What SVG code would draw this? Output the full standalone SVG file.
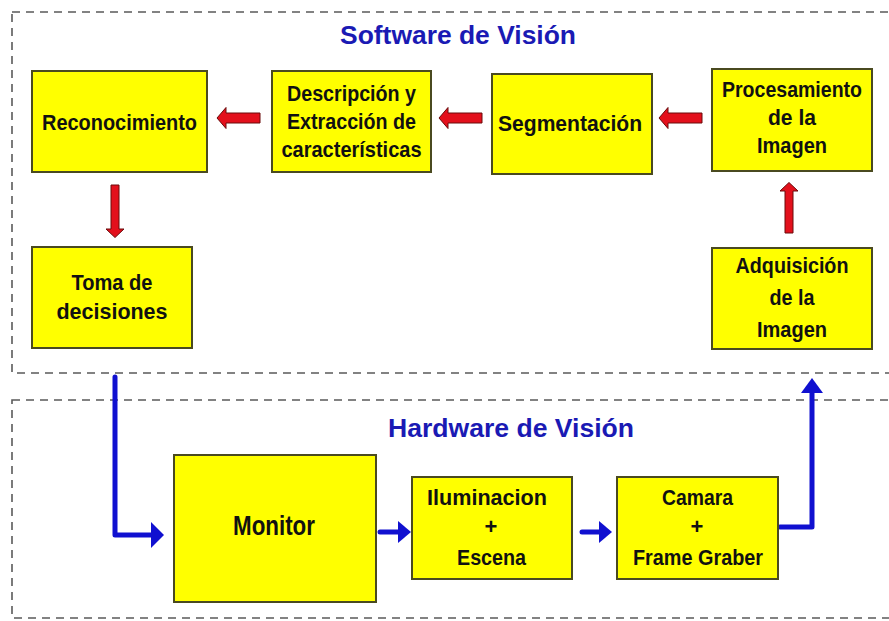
<svg xmlns="http://www.w3.org/2000/svg" width="889" height="621" viewBox="0 0 889 621">
<style>
.bg{fill:#ffffff}
.frame{fill:none;stroke:#5a5a5a;stroke-width:1.6;stroke-dasharray:8 6}
.box{fill:#ffff00;stroke:#4a4a20;stroke-width:2}
.t{font-family:"Liberation Sans",Arial,sans-serif;font-weight:bold;font-size:22px;fill:#111;text-anchor:middle}
.title{font-family:"Liberation Sans",Arial,sans-serif;font-weight:bold;font-size:25px;fill:#1a1ab4;text-anchor:middle}
.red{fill:#e3101c;stroke:#6a0a0a;stroke-width:1}
.blue{fill:none;stroke:#1010d0;stroke-width:5;stroke-linejoin:round;stroke-linecap:round}
.bhead{fill:#1010d0}
</style>
<rect class="bg" x="0" y="0" width="889" height="621"/>
<g id="frames">
<rect class="frame" x="12" y="12" width="890" height="361"/>
<rect class="frame" x="12" y="400" width="890" height="218"/>
<text class="title" x="458" y="44" textLength="236" lengthAdjust="spacingAndGlyphs">Software de Visión</text>
<text class="title" x="511" y="437" textLength="246" lengthAdjust="spacingAndGlyphs">Hardware de Visión</text>
</g>
<g id="connectors">
<path class="red" d="M260,113 L226,113 L226,107.5 L217,118 L226,128.5 L226,123 L260,123 Z"/>
<path class="red" d="M482,113 L448,113 L448,107.5 L439,118 L448,128.5 L448,123 L482,123 Z"/>
<path class="red" d="M702,113 L668,113 L668,107.5 L659,118 L668,128.5 L668,123 L702,123 Z"/>
<path class="red" d="M111,185 L111,229 L106,229 L115,237.5 L124,229 L119,229 L119,185 Z"/>
<path class="red" d="M785,233 L785,191 L780,191 L789,182.5 L798,191 L793,191 L793,233 Z"/>
<path class="blue" d="M115,377 L115,535 L152,535"/>
<path class="bhead" d="M151,522 L164,535 L151,548 Z"/>
<path class="blue" d="M380,532 L400,532"/>
<path class="bhead" d="M398,521 L411,532 L398,543 Z"/>
<path class="blue" d="M582,532 L601,532"/>
<path class="bhead" d="M599,521 L612,532 L599,543 Z"/>
<path class="blue" d="M780,527 L812,527 L812,392"/>
<path class="bhead" d="M801,393 L812,378 L823,393 Z"/>
</g>
<g id="reconocimiento">
<rect class="box" x="32" y="71" width="175" height="101"/>
<text class="t" x="119.5" y="130" textLength="155" lengthAdjust="spacingAndGlyphs">Reconocimiento</text>
</g>
<g id="descripcion">
<rect class="box" x="272" y="71" width="159" height="101"/>
<text class="t" x="351.5" y="101" textLength="129" lengthAdjust="spacingAndGlyphs">Descripción y</text>
<text class="t" x="351.5" y="129" textLength="129" lengthAdjust="spacingAndGlyphs">Extracción de</text>
<text class="t" x="351.5" y="157" textLength="140" lengthAdjust="spacingAndGlyphs">características</text>
</g>
<g id="segmentacion">
<rect class="box" x="492" y="74" width="160" height="100"/>
<text class="t" x="570" y="131" textLength="144" lengthAdjust="spacingAndGlyphs">Segmentación</text>
</g>
<g id="procesamiento">
<rect class="box" x="712" y="69" width="160" height="102"/>
<text class="t" x="792" y="97" textLength="140" lengthAdjust="spacingAndGlyphs">Procesamiento</text>
<text class="t" x="792" y="125" textLength="48" lengthAdjust="spacingAndGlyphs">de la</text>
<text class="t" x="792" y="153" textLength="70" lengthAdjust="spacingAndGlyphs">Imagen</text>
</g>
<g id="toma">
<rect class="box" x="32" y="247" width="160" height="101"/>
<text class="t" x="112" y="290" textLength="81" lengthAdjust="spacingAndGlyphs">Toma de</text>
<text class="t" x="112" y="319" textLength="111" lengthAdjust="spacingAndGlyphs">decisiones</text>
</g>
<g id="adquisicion">
<rect class="box" x="712" y="248" width="160" height="101"/>
<text class="t" x="792" y="273" textLength="113" lengthAdjust="spacingAndGlyphs">Adquisición</text>
<text class="t" x="792" y="305" textLength="45" lengthAdjust="spacingAndGlyphs">de la</text>
<text class="t" x="792" y="337" textLength="70" lengthAdjust="spacingAndGlyphs">Imagen</text>
</g>
<g id="monitor">
<rect class="box" x="174" y="455" width="202" height="147"/>
<text class="t" x="274" y="535" style="font-size:27px" textLength="82" lengthAdjust="spacingAndGlyphs">Monitor</text>
</g>
<g id="iluminacion">
<rect class="box" x="412" y="477" width="160" height="102"/>
<text class="t" x="487" y="505" textLength="120" lengthAdjust="spacingAndGlyphs">Iluminacion</text>
<text class="t" x="491" y="534">+</text>
<text class="t" x="491.5" y="565" textLength="69" lengthAdjust="spacingAndGlyphs">Escena</text>
</g>
<g id="camara">
<rect class="box" x="617" y="477" width="161" height="102"/>
<text class="t" x="697.5" y="505" textLength="71" lengthAdjust="spacingAndGlyphs">Camara</text>
<text class="t" x="697" y="534">+</text>
<text class="t" x="698" y="565" textLength="130" lengthAdjust="spacingAndGlyphs">Frame Graber</text>
</g>
</svg>
